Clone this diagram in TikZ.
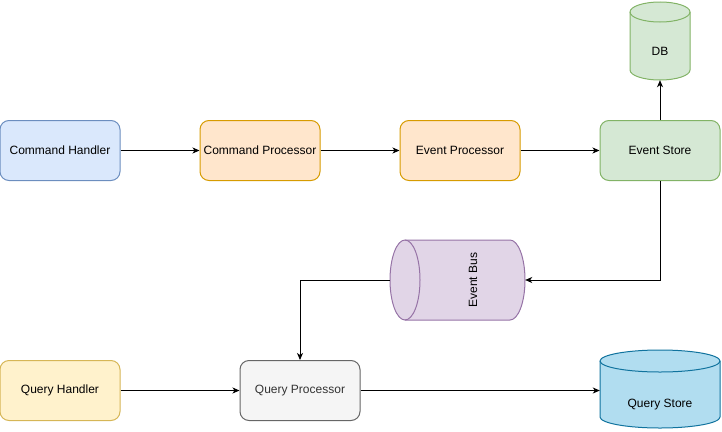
\documentclass[tikz,border=0pt]{standalone}
\usepackage{fontspec}
\setmainfont{Liberation Sans}
\usetikzlibrary{arrows.meta}
\definecolor{chfill}{HTML}{DAE8FC}
\definecolor{chline}{HTML}{6C8EBF}
\definecolor{cpfill}{HTML}{FFE6CC}
\definecolor{cpline}{HTML}{D79B00}
\definecolor{esfill}{HTML}{D5E8D4}
\definecolor{esline}{HTML}{82B366}
\definecolor{busfill}{HTML}{E1D5E7}
\definecolor{busline}{HTML}{9673A6}
\definecolor{qhfill}{HTML}{FFF2CC}
\definecolor{qhline}{HTML}{D6B656}
\definecolor{qpfill}{HTML}{F5F5F5}
\definecolor{qpline}{HTML}{666666}
\definecolor{qptext}{HTML}{333333}
\definecolor{qsfill}{HTML}{B1DDF0}
\definecolor{qsline}{HTML}{10739E}
\begin{document}
\begin{tikzpicture}[x=1pt,y=1pt,font=\fontsize{12}{14}\selectfont]
        \useasboundingbox (0,0) rectangle (722,-431);

        % cylinders
        \begin{scope}[line width=1pt]
          \draw[fill=esfill,draw=esline] (630,-12) -- (630,-70)
            arc[start angle=180,end angle=360,x radius=30,y radius=10] -- (690,-12)
            arc[start angle=0,end angle=180,x radius=30,y radius=10] -- cycle;
          \draw[esline] (630,-12) arc[start angle=180,end angle=360,x radius=30,y radius=10];

          \draw[fill=qsfill,draw=qsline] (600,-361) -- (600,-417)
            arc[start angle=180,end angle=360,x radius=60,y radius=11] -- (720,-361)
            arc[start angle=0,end angle=180,x radius=60,y radius=11] -- cycle;
          \draw[qsline] (600,-361) arc[start angle=180,end angle=360,x radius=60,y radius=11];

          \draw[fill=busfill,draw=busline] (405,-240) -- (510,-240)
            arc[start angle=90,end angle=-90,x radius=15,y radius=40] -- (405,-320)
            arc[start angle=270,end angle=90,x radius=15,y radius=40] -- cycle;
          \draw[busline] (405,-240) arc[start angle=90,end angle=-90,x radius=15,y radius=40];
        \end{scope}

        \begin{scope}[every node/.style={draw,line width=1pt,rounded corners=9pt,
                      minimum width=120pt,minimum height=60pt,inner sep=0pt}]
          \node[fill=chfill,draw=chline] (ch) at (60,-150.5)  {Command Handler};
          \node[fill=cpfill,draw=cpline] (cp) at (260,-150.5) {Command Processor};
          \node[fill=cpfill,draw=cpline] (ep) at (460,-150.5) {Event Processor};
          \node[fill=esfill,draw=esline] (es) at (660,-150.5) {Event Store};
          \node[fill=qhfill,draw=qhline] (qh) at (60,-390.5)  {Query Handler};
          \node[fill=qpfill,draw=qpline,text=qptext] (qp) at (300,-390.5) {Query Processor};
        \end{scope}

        \begin{scope}[every node/.style={inner sep=0pt}]
          \node[minimum width=60pt,minimum height=58pt] (db) at (660,-51) {DB};
          \node[minimum width=135pt,minimum height=80pt] (bus) at (457.5,-280) {};
          \node[rotate=90] (bustext) at (473,-280) {Event Bus};
          \node[minimum width=120pt,minimum height=60pt,
                label={[yshift=-14pt]center:Query Store}] (qs) at (660,-390.5) {};
        \end{scope}

        \begin{scope}[every edge/.style={draw,line width=1pt,-{Stealth[length=7pt,width=6pt,inset=2pt]}}]
          \path (ch) edge (cp);
          \path (cp) edge (ep);
          \path (ep) edge (es);
          \path (es) edge (db);
          \path (qh) edge (qp);
          \path (qp) edge (qs);
          \path (es) edge[to path={|- (\tikztotarget)}] (bus);
          \path (bus) edge[to path={-| (\tikztotarget)}] (qp);
        \end{scope}

      \end{tikzpicture}
\end{document}
